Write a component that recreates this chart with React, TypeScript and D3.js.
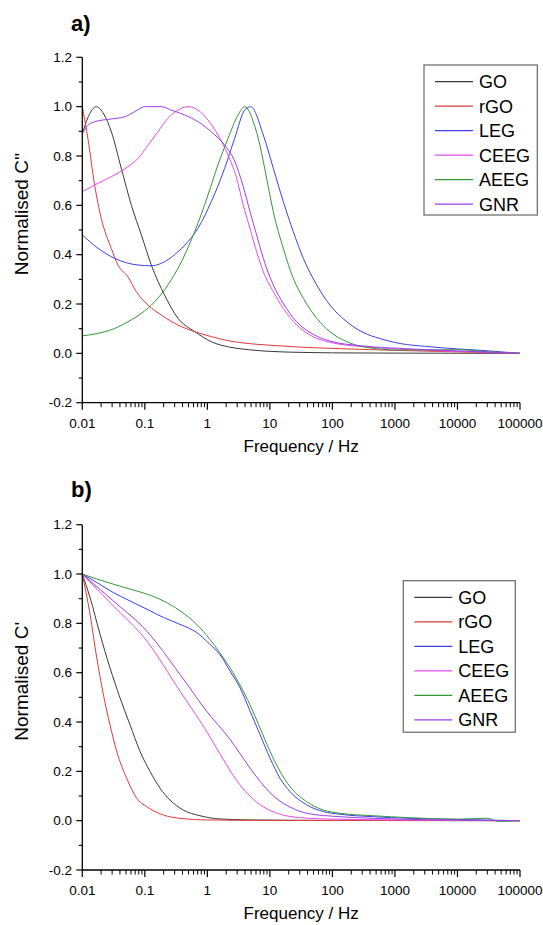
import React from "react";
import * as d3 from "d3";

// ---------- data: panel a) Normalised C'' ----------
const fGO_a = [0.01, 0.0125, 0.0168, 0.022, 0.029, 0.042, 0.061, 0.088, 0.127, 0.207, 0.34, 0.63, 1.16, 2.3, 4.5, 10, 30, 100, 1000, 10000, 100000];
const vGO_a = [0.89, 0.96, 1.0, 0.97, 0.9, 0.75, 0.6, 0.48, 0.358, 0.236, 0.142, 0.088, 0.047, 0.025, 0.015, 0.008, 0.004, 0.002, 0.001, 0.0005, 0];

const frGO_a = [0.01, 0.0123, 0.0158, 0.0201, 0.0291, 0.0372, 0.0537, 0.0731, 0.112, 0.184, 0.339, 0.627, 1.156, 2.29, 4.47, 10, 31.6, 100, 1000, 10000, 100000];
const vrGO_a = [1.0, 0.87, 0.68, 0.547, 0.425, 0.358, 0.31, 0.25, 0.196, 0.155, 0.115, 0.088, 0.068, 0.05, 0.04, 0.033, 0.025, 0.02, 0.012, 0.006, 0];

const fLEG_a = [0.01, 0.0178, 0.033, 0.0778, 0.127, 0.184, 0.3, 0.49, 0.708, 1.156, 1.89, 2.73, 3.95, 4.93, 7.85, 11.35, 16.4, 23.7, 34.3, 56.2, 91.2, 170, 309, 575, 1202, 3162, 10000, 31623, 100000];
const vLEG_a = [0.48, 0.426, 0.385, 0.358, 0.355, 0.365, 0.4, 0.453, 0.507, 0.615, 0.75, 0.871, 0.986, 1.0, 0.885, 0.75, 0.615, 0.493, 0.385, 0.277, 0.196, 0.128, 0.085, 0.06, 0.04, 0.028, 0.018, 0.01, 0];

const fCEEG_a = [0.01, 0.0178, 0.033, 0.0537, 0.0778, 0.1122, 0.162, 0.234, 0.339, 0.49, 0.708, 1.023, 1.479, 2.138, 2.94, 3.76, 4.81, 6.14, 7.85, 11.35, 16.4, 26.8, 49.5, 91.2, 309, 1202, 10000, 100000];
const vCEEG_a = [0.655, 0.689, 0.723, 0.757, 0.79, 0.844, 0.898, 0.953, 0.986, 1.0, 0.986, 0.946, 0.885, 0.804, 0.71, 0.6, 0.506, 0.412, 0.331, 0.25, 0.182, 0.115, 0.067, 0.045, 0.027, 0.017, 0.008, 0];

const fAEEG_a = [0.01, 0.0178, 0.033, 0.0537, 0.0879, 0.1435, 0.234, 0.384, 0.627, 1.023, 1.479, 2.138, 3.09, 3.98, 5.43, 6.92, 8.87, 11.35, 16.4, 23.7, 34.3, 56.2, 91.2, 170, 309, 1202, 10000, 31623, 100000];
const vAEEG_a = [0.071, 0.081, 0.101, 0.128, 0.162, 0.209, 0.277, 0.371, 0.493, 0.642, 0.764, 0.871, 0.966, 1.0, 0.939, 0.844, 0.709, 0.574, 0.425, 0.304, 0.223, 0.142, 0.088, 0.047, 0.027, 0.013, 0.015, 0.006, 0];

const fGNR_a = [0.01, 0.0123, 0.0158, 0.0291, 0.0479, 0.0692, 0.1, 0.184, 0.265, 0.434, 0.708, 1.156, 1.89, 2.73, 3.76, 4.81, 6.14, 7.85, 11.35, 16.4, 26.8, 49.5, 91.2, 309, 1202, 10000, 100000];
const vGNR_a = [0.89, 0.925, 0.939, 0.95, 0.959, 0.98, 1.0, 1.0, 0.986, 0.966, 0.939, 0.898, 0.844, 0.78, 0.675, 0.574, 0.48, 0.385, 0.277, 0.202, 0.128, 0.077, 0.05, 0.03, 0.02, 0.01, 0];

// ---------- data: panel b) Normalised C' ----------
const fGO_b = [0.01, 0.0133, 0.0192, 0.0277, 0.0401, 0.0579, 0.0838, 0.121, 0.175, 0.252, 0.412, 0.762, 1.58, 4.8, 100, 100000];
const vGO_b = [1.0, 0.905, 0.756, 0.62, 0.498, 0.389, 0.281, 0.2, 0.132, 0.084, 0.043, 0.02, 0.007, 0.003, 0.001, 0];

const frGO_b = [0.01, 0.0133, 0.017, 0.0217, 0.0277, 0.0355, 0.0513, 0.0741, 0.107, 0.198, 0.365, 1, 10, 100000];
const vrGO_b = [1.0, 0.837, 0.661, 0.512, 0.389, 0.281, 0.172, 0.091, 0.057, 0.023, 0.0095, 0.003, 0.001, 0];

const fLEG_b = [0.01, 0.017, 0.0313, 0.0579, 0.107, 0.198, 0.365, 0.674, 1.1, 1.58, 2.3, 3.33, 4.81, 6.95, 10.05, 14.5, 21, 38.7, 71.6, 132, 452, 1738, 10000, 100000];
const vLEG_b = [1.0, 0.966, 0.925, 0.891, 0.858, 0.824, 0.796, 0.763, 0.715, 0.674, 0.607, 0.539, 0.445, 0.349, 0.254, 0.172, 0.118, 0.064, 0.037, 0.026, 0.016, 0.0095, 0.005, 0];

const fCEEG_b = [0.01, 0.0313, 0.107, 0.365, 0.973, 1.58, 2.6, 3.33, 4.81, 6.15, 8, 11.35, 20.9, 71.6, 1000, 100000];
const vCEEG_b = [1.0, 0.871, 0.729, 0.525, 0.362, 0.272, 0.183, 0.145, 0.1, 0.075, 0.055, 0.036, 0.017, 0.007, 0.003, 0];

const fAEEG_b = [0.01, 0.017, 0.0313, 0.0579, 0.107, 0.198, 0.365, 0.674, 1.1, 1.58, 2.3, 3.33, 4.81, 6.95, 10.05, 14.5, 21, 38.7, 71.6, 132, 452, 1738, 10000, 30000, 45000, 100000];
const vAEEG_b = [1.0, 0.98, 0.959, 0.939, 0.919, 0.891, 0.851, 0.796, 0.735, 0.681, 0.62, 0.55, 0.47, 0.376, 0.281, 0.2, 0.138, 0.077, 0.043, 0.03, 0.02, 0.012, 0.006, 0.01, -0.003, 0];

const fGNR_b = [0.01, 0.0313, 0.107, 0.365, 1.0, 2.3, 3.33, 4.81, 6.95, 10, 14.5, 21, 38.9, 132, 457, 1738, 100000];
const vGNR_b = [1.0, 0.891, 0.769, 0.593, 0.44, 0.33, 0.272, 0.213, 0.16, 0.114, 0.079, 0.055, 0.03, 0.016, 0.0095, 0.005, 0];

// ---------- categories / ticks ----------
const seriesNames = ["GO", "rGO", "LEG", "CEEG", "AEEG", "GNR"];
const seriesColors = ["#3a3a3a", "#e03a3a", "#4040e8", "#e84ce8", "#35963a", "#9b40ec"];
const xTickValues = [0.01, 0.1, 1, 10, 100, 1000, 10000, 100000];
const xTickLabels = ["0.01", "0.1", "1", "10", "100", "1000", "10000", "100000"];
const yTickValues = [-0.2, 0, 0.2, 0.4, 0.6, 0.8, 1.0, 1.2];
const yMinorValues = [-0.1, 0.1, 0.3, 0.5, 0.7, 0.9, 1.1];

const panelASeries = [
  [fGO_a, vGO_a], [frGO_a, vrGO_a], [fLEG_a, vLEG_a],
  [fCEEG_a, vCEEG_a], [fAEEG_a, vAEEG_a], [fGNR_a, vGNR_a],
];
const panelBSeries = [
  [fGO_b, vGO_b], [frGO_b, vrGO_b], [fLEG_b, vLEG_b],
  [fCEEG_b, vCEEG_b], [fAEEG_b, vAEEG_b], [fGNR_b, vGNR_b],
];

const FONT = "'Liberation Sans', Arial, Helvetica, sans-serif";
const X0 = 82.3;
const X1 = 520;

type PanelProps = {
  series: number[][][];
  yTop: number;
  yBot: number;
  label: string;
  labelY: number;
  yTitle: string;
  legend: { x: number; y: number; w: number; h: number };
};

function Panel({ series, yTop, yBot, label, labelY, yTitle, legend }: PanelProps) {
  const x = d3.scaleLog().domain([0.01, 100000]).range([X0, X1]);
  const y = d3.scaleLinear().domain([-0.2, 1.2]).range([yBot, yTop]);
  const line = d3
    .line<[number, number]>()
    .x((d) => x(d[0]))
    .y((d) => y(d[1]))
    .curve(d3.curveMonotoneX);

  const minorX: number[] = [];
  for (let i = 0; i < xTickValues.length - 1; i++) {
    for (let m = 2; m <= 9; m++) minorX.push(xTickValues[i] * m);
  }
  const yMid = (yTop + yBot) / 2 - 16;

  return (
    <g>
      <text x={71} y={labelY} fontFamily={FONT} fontWeight="bold" fontSize={22} fill="#000">
        {label}
      </text>
      {series.map((s, i) => {
        const pts = s[0].map((f, k) => [f, s[1][k]] as [number, number]);
        return (
          <path key={i} d={line(pts) || ""} fill="none" stroke={seriesColors[i]} strokeWidth={1} />
        );
      })}
      <line x1={X0} x2={X0} y1={yTop} y2={yBot} stroke="#000" strokeWidth={1.3} />
      <line x1={X0} x2={X1} y1={yBot} y2={yBot} stroke="#000" strokeWidth={1.3} />
      {yTickValues.map((v) => (
        <g key={"yt" + v}>
          <line x1={X0 - 6} x2={X0} y1={y(v)} y2={y(v)} stroke="#000" strokeWidth={1.2} />
          <text x={72} y={y(v) + 4.7} textAnchor="end" fontFamily={FONT} fontSize={13.5} fill="#000">
            {v.toFixed(1)}
          </text>
        </g>
      ))}
      {yMinorValues.map((v) => (
        <line key={"ym" + v} x1={X0 - 3.5} x2={X0} y1={y(v)} y2={y(v)} stroke="#000" strokeWidth={1.1} />
      ))}
      {xTickValues.map((v, i) => (
        <g key={"xt" + v}>
          <line x1={x(v)} x2={x(v)} y1={yBot} y2={yBot + 7} stroke="#000" strokeWidth={1.2} />
          <text x={x(v)} y={yBot + 25} textAnchor="middle" fontFamily={FONT} fontSize={13.5} fill="#000">
            {xTickLabels[i]}
          </text>
        </g>
      ))}
      {minorX.map((v) => (
        <line key={"xm" + v} x1={x(v)} x2={x(v)} y1={yBot} y2={yBot + 4.5} stroke="#000" strokeWidth={1} />
      ))}
      <text x={(X0 + X1) / 2} y={yBot + 49} textAnchor="middle" fontFamily={FONT} fontSize={17} fill="#000">
        Frequency / Hz
      </text>
      <text
        transform={`translate(27.5,${yMid}) rotate(-90)`}
        textAnchor="middle"
        fontFamily={FONT}
        fontSize={19}
        fill="#000"
      >
        {yTitle}
      </text>
      <rect x={legend.x} y={legend.y} width={legend.w} height={legend.h} fill="#fff" stroke="#666" strokeWidth={1.2} />
      {seriesNames.map((n, i) => {
        const cy = legend.y + 16.7 + i * 24.5;
        return (
          <g key={n}>
            <line x1={legend.x + 11} x2={legend.x + 49} y1={cy} y2={cy} stroke={seriesColors[i]} strokeWidth={1.3} />
            <text x={legend.x + 55} y={cy + 6.5} fontFamily={FONT} fontSize={18} fill="#000">
              {n}
            </text>
          </g>
        );
      })}
    </g>
  );
}

export default function App() {
  return (
    <svg
      width={543}
      height={925}
      viewBox="0 0 543 925"
      style={{ position: "absolute", left: 0, top: 0, background: "#fff" }}
    >
      <rect x={0} y={0} width={543} height={925} fill="#fff" />
      <Panel
        series={panelASeries}
        yTop={57.3}
        yBot={402.7}
        label="a)"
        labelY={31}
        yTitle="Normalised C''"
        legend={{ x: 424, y: 65, w: 113.3, h: 150 }}
      />
      <Panel
        series={panelBSeries}
        yTop={524.7}
        yBot={870}
        label="b)"
        labelY={497}
        yTitle="Normalised C'"
        legend={{ x: 403.3, y: 580.7, w: 112, h: 151.5 }}
      />
    </svg>
  );
}
